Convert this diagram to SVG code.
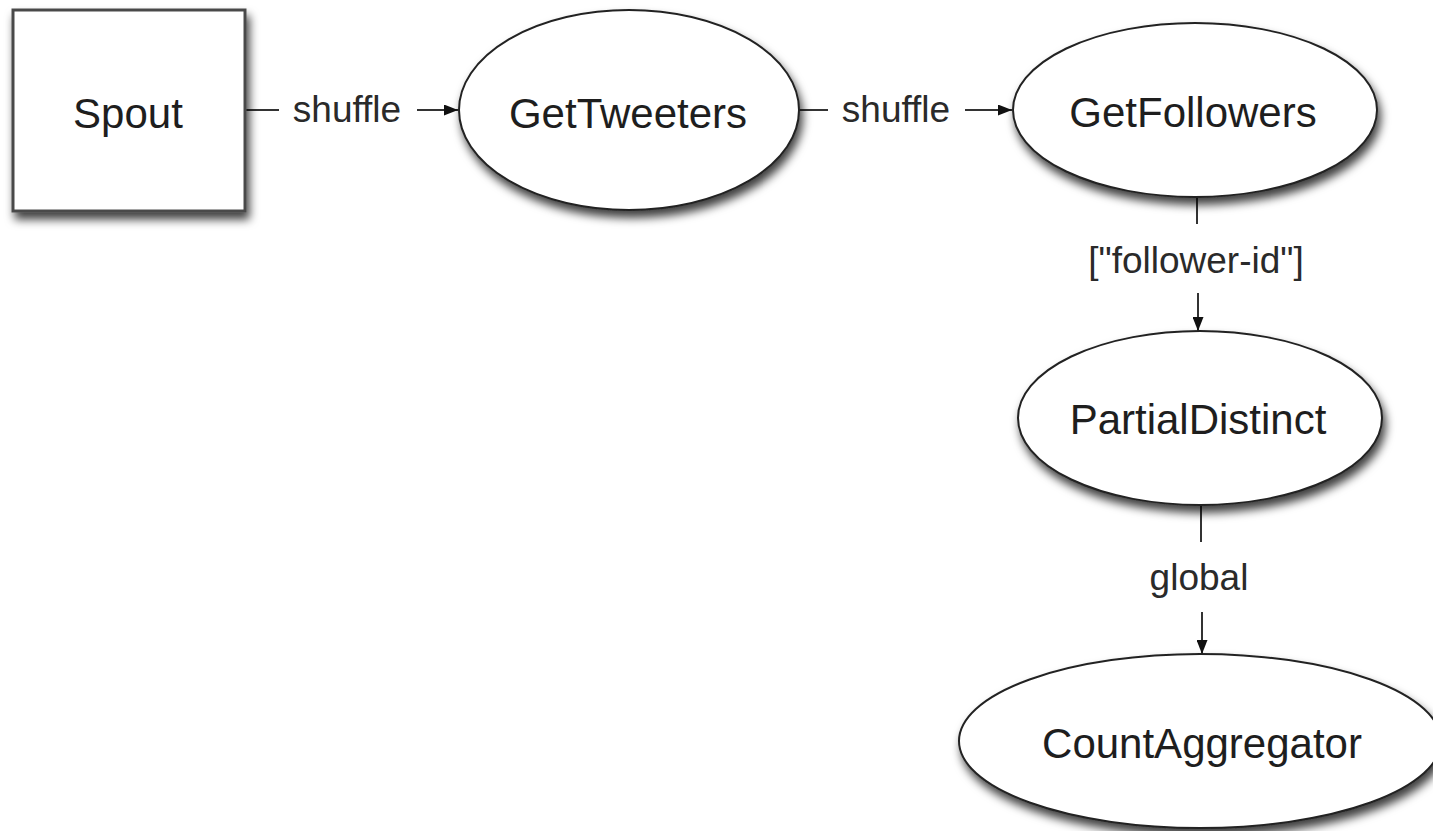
<svg xmlns="http://www.w3.org/2000/svg" width="1433" height="831" viewBox="0 0 1433 831">
  <style>
    .node { fill: #ffffff; stroke: #222222; stroke-width: 2; filter: url(#shadow); }
    .box { fill: #ffffff; stroke: #4a4a4a; stroke-width: 3; filter: url(#shadow); }
    .name { font-family: "Liberation Sans", Arial, sans-serif; font-size: 42px; fill: #1e1e1e; text-anchor: middle; }
    .label { font-family: "Liberation Sans", Arial, sans-serif; font-size: 37px; fill: #2a2a2a; text-anchor: middle; }
    .edge { stroke: #333333; stroke-width: 2; fill: none; }
  </style>
  <defs>
    <filter id="shadow" x="-20%" y="-20%" width="150%" height="160%">
      <feDropShadow dx="3" dy="7" stdDeviation="5" flood-color="#000000" flood-opacity="0.75"/>
    </filter>
    <marker id="arrow" viewBox="0 0 14 11" refX="14" refY="5.5" markerWidth="14" markerHeight="11" markerUnits="userSpaceOnUse" orient="auto">
      <path d="M0,0 L14,5.5 L0,11 Z" fill="#111111"/>
    </marker>
  </defs>

  <rect width="1433" height="831" fill="#ffffff"/>

  <!-- connectors: a plain stub leaves the source, the label sits in the gap, an arrow enters the target -->
  <g id="connectors">
    <g id="edge-spout-gettweeters">
      <line class="edge" x1="245" y1="110" x2="279" y2="110"/>
      <text class="label" x="347" y="122">shuffle</text>
      <line class="edge" x1="417" y1="110" x2="458" y2="110" marker-end="url(#arrow)"/>
    </g>
    <g id="edge-gettweeters-getfollowers">
      <line class="edge" x1="799" y1="110" x2="828" y2="110"/>
      <text class="label" x="896" y="122">shuffle</text>
      <line class="edge" x1="965" y1="110" x2="1012" y2="110" marker-end="url(#arrow)"/>
    </g>
    <g id="edge-getfollowers-partialdistinct">
      <line class="edge" x1="1197" y1="197" x2="1197" y2="224"/>
      <text class="label" x="1196" y="273">["follower-id"]</text>
      <line class="edge" x1="1198" y1="293" x2="1198" y2="331" marker-end="url(#arrow)"/>
    </g>
    <g id="edge-partialdistinct-countaggregator">
      <line class="edge" x1="1201" y1="505" x2="1201" y2="542"/>
      <text class="label" x="1199" y="590">global</text>
      <line class="edge" x1="1202" y1="612" x2="1202" y2="654" marker-end="url(#arrow)"/>
    </g>
  </g>

  <g id="spout">
    <rect class="box" x="13" y="10" width="232" height="201"/>
    <text class="name" x="128" y="128">Spout</text>
  </g>

  <g id="gettweeters">
    <ellipse class="node" cx="629" cy="110" rx="170" ry="100"/>
    <text class="name" x="628" y="128">GetTweeters</text>
  </g>

  <g id="getfollowers">
    <ellipse class="node" cx="1195" cy="110" rx="182" ry="87"/>
    <text class="name" x="1193" y="127">GetFollowers</text>
  </g>

  <g id="partialdistinct">
    <ellipse class="node" cx="1200" cy="418" rx="182" ry="87"/>
    <text class="name" x="1198" y="434">PartialDistinct</text>
  </g>

  <g id="countaggregator">
    <ellipse class="node" cx="1200" cy="741" rx="241" ry="87"/>
    <text class="name" x="1202" y="758">CountAggregator</text>
  </g>
</svg>
